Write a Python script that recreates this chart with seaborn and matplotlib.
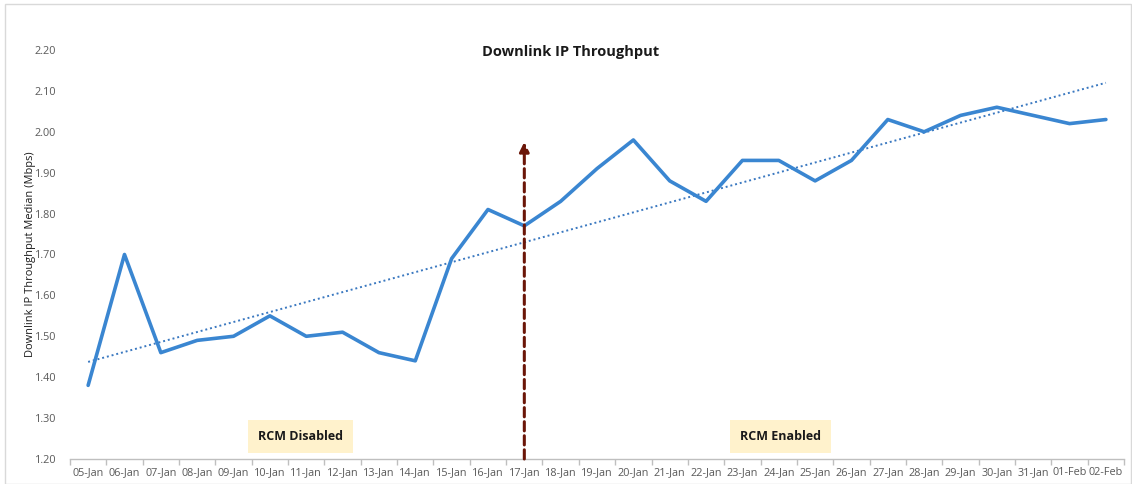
import numpy as np
import pandas as pd
import matplotlib
matplotlib.use("Agg")
import matplotlib.pyplot as plt
import seaborn as sns

dates = ["05-Jan", "06-Jan", "07-Jan", "08-Jan", "09-Jan", "10-Jan", "11-Jan", "12-Jan",
         "13-Jan", "14-Jan", "15-Jan", "16-Jan", "17-Jan", "18-Jan", "19-Jan", "20-Jan",
         "21-Jan", "22-Jan", "23-Jan", "24-Jan", "25-Jan", "26-Jan", "27-Jan", "28-Jan",
         "29-Jan", "30-Jan", "31-Jan", "01-Feb", "02-Feb"]
throughput = [1.38, 1.70, 1.46, 1.49, 1.50, 1.55, 1.50, 1.51, 1.46, 1.44, 1.69, 1.81,
              1.77, 1.83, 1.91, 1.98, 1.88, 1.83, 1.93, 1.93, 1.88, 1.93, 2.03, 2.00,
              2.04, 2.06, 2.04, 2.02, 2.03]
y_ticks = [1.20, 1.30, 1.40, 1.50, 1.60, 1.70, 1.80, 1.90, 2.00, 2.10, 2.20]
change_date = "17-Jan"
arrow_top = 1.975
label_y = 1.255

sns.set_theme(style="white")
plt.rcParams['font.family'] = ['Open Sans', 'DejaVu Sans']

df = pd.DataFrame({"idx": np.arange(len(dates)), "date": dates, "value": throughput})

fig = plt.figure(figsize=(11.32, 4.84), dpi=100)
ax = fig.add_axes([0.0618, 0.0517, 0.9312, 0.845])

# border around whole figure
fig.patches.append(plt.Rectangle((0.004, 0.0), 0.995, 0.992, transform=fig.transFigure,
                                 fill=False, edgecolor="#D9D9D9", linewidth=1))

sns.lineplot(data=df, x="idx", y="value", ax=ax, color="#3A86D1", linewidth=2.6, zorder=3)

# linear trendline
coef = np.polyfit(df["idx"], df["value"], 1)
trend = np.polyval(coef, df["idx"])
ax.plot(df["idx"], trend, linestyle=(0, (1, 1.5)), color="#3A78C0", linewidth=1.4, zorder=2)

# vertical dashed arrow at change date
xi = dates.index(change_date)
ax.annotate("", xy=(xi, arrow_top), xytext=(xi, 1.20),
            arrowprops=dict(arrowstyle="-|>", color="#6B1608", linewidth=2.2,
                            linestyle=(0, (3, 1.6)), mutation_scale=14,
                            shrinkA=0, shrinkB=0), zorder=4)

box = dict(boxstyle="square,pad=0.8", facecolor="#FFF2CC", edgecolor="none")
ax.text(5.83, label_y, "RCM Disabled", ha="center", va="center", fontsize=9,
        fontweight="bold", color="#1A1A1A", bbox=box)
ax.text(19.06, label_y, "RCM Enabled", ha="center", va="center", fontsize=9,
        fontweight="bold", color="#1A1A1A", bbox=box)

ax.set_xlim(-0.5, len(dates) - 0.5)
ax.set_ylim(1.20, 2.20)
ax.set_xticks(np.arange(len(dates)))
ax.set_xticklabels(dates, fontsize=7.8, color="#595959")
ax.set_yticks(y_ticks)
ax.set_yticklabels([f"{v:.2f}" for v in y_ticks], fontsize=7.8, color="#595959")
ax.tick_params(axis="x", length=0, pad=6)
ax.tick_params(axis="y", length=0, pad=10)
# minor ticks between categories
ax.set_xticks(np.arange(len(dates) + 1) - 0.5, minor=True)
ax.tick_params(axis="x", which="minor", length=4, color="#BFBFBF", bottom=True)

for s in ["top", "right", "left"]:
    ax.spines[s].set_visible(False)
ax.spines["bottom"].set_color("#BFBFBF")
ax.spines["bottom"].set_linewidth(1)

ax.set_xlabel("")
ax.set_ylabel("Downlink IP Throughput Median (Mbps)", fontsize=7.9, color="#1A1A1A")
ax.yaxis.set_label_coords(-0.032, 0.5)

fig.text(0.504, 0.893, "Downlink IP Throughput", ha="center", va="center",
         fontsize=10.5, fontweight="bold", color="#1A1A1A")

fig.savefig("out.png", dpi=100)
